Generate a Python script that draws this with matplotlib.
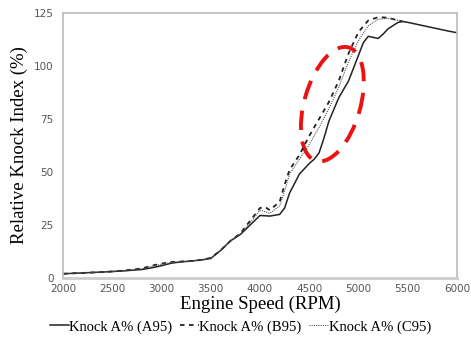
import matplotlib
matplotlib.use("Agg")
import matplotlib.pyplot as plt
import matplotlib.transforms as mtransforms
from matplotlib.patches import Ellipse

speed_a = [2000, 2200, 2400, 2600, 2800, 2900, 3000, 3100, 3200, 3300, 3400, 3500, 3600, 3700, 3800,
           3900, 4000, 4100, 4200, 4250, 4300, 4400, 4500, 4550, 4600, 4650, 4700, 4800, 4900, 5000,
           5050, 5100, 5150, 5200, 5250, 5300, 5400, 5450, 5500, 5600, 5700, 5800, 5900, 6000]
knock_a = [2.0, 2.4, 2.8, 3.3, 4.0, 4.8, 5.8, 7.0, 7.6, 8.0, 8.5, 9.2, 13.0, 17.5, 20.5,
           25.0, 29.5, 29.2, 30.0, 33.0, 40.0, 49.0, 54.0, 56.0, 59.0, 66.0, 74.0, 85.0, 93.0, 105.0,
           111.0, 114.0, 113.5, 113.0, 115.0, 117.5, 120.5, 121.0, 120.6, 119.6, 118.6, 117.6, 116.6, 115.7]

speed_b = [2000, 2200, 2400, 2600, 2800, 2900, 3000, 3100, 3200, 3300, 3400, 3500, 3600, 3700, 3800,
           3900, 4000, 4050, 4100, 4200, 4250, 4300, 4400, 4500, 4600, 4700, 4800, 4900, 5000,
           5100, 5200, 5300, 5400, 5450]
knock_b = [2.0, 2.4, 2.8, 3.4, 4.5, 5.8, 6.8, 7.5, 7.8, 8.0, 8.5, 9.5, 13.0, 17.5, 21.0,
           27.0, 33.0, 33.5, 32.0, 36.0, 44.0, 51.0, 58.0, 67.0, 75.0, 83.0, 93.0, 106.0, 116.0,
           121.5, 123.0, 122.8, 121.5, 121.0]

speed_c = [2000, 2200, 2400, 2600, 2800, 2900, 3000, 3100, 3200, 3300, 3400, 3500, 3600, 3700, 3800,
           3900, 4000, 4100, 4200, 4250, 4300, 4400, 4500, 4600, 4700, 4800, 4900, 5000,
           5100, 5200, 5300, 5400, 5450]
knock_c = [2.0, 2.4, 2.8, 3.3, 4.3, 5.5, 6.5, 7.3, 7.7, 8.0, 8.5, 9.3, 13.0, 17.5, 20.8,
           26.0, 32.0, 30.5, 34.0, 41.0, 49.0, 56.0, 63.0, 71.0, 80.0, 90.0, 102.0, 112.0,
           119.0, 122.0, 122.5, 121.5, 121.0]

labels = ["Knock A% (A95)", "Knock A% (B95)", "Knock A% (C95)"]
x_ticks = [2000, 2500, 3000, 3500, 4000, 4500, 5000, 5500, 6000]
y_ticks = [0, 25, 50, 75, 100, 125]

# highlight ellipse (center in data units)
ell_center = (4735, 82)

plt.rcParams['font.family'] = ['Liberation Serif', 'DejaVu Serif']

fig = plt.figure(figsize=(4.71, 3.58), dpi=100)
ax = fig.add_axes([0.134, 0.2235, 0.836, 0.7402])

ax.plot(speed_a, knock_a, color='#222222', lw=1.1, ls='-', label=labels[0])
ax.plot(speed_b, knock_b, color='#222222', lw=1.3, ls=(0, (2.5, 2.5)), label=labels[1])
ax.plot(speed_c, knock_c, color='#555555', lw=0.8, ls=(0, (1, 1)), label=labels[2])

ax.set_xlim(2000, 6000)
ax.set_ylim(0, 125)
ax.set_xticks(x_ticks)
ax.set_yticks(y_ticks)
ax.tick_params(length=0, labelsize=7.5, colors='#555555', pad=7)
ax.tick_params(axis='x', pad=4)
for lab in ax.get_xticklabels() + ax.get_yticklabels():
    lab.set_color('#555555')
    lab.set_family('DejaVu Sans')
for s in ax.spines.values():
    s.set_color('#bbbbbb')
    s.set_linewidth(1.2)
ax.spines['bottom'].set_color('#cccccc')
ax.spines['bottom'].set_linewidth(2)

ax.set_xlabel("Engine Speed (RPM)", fontsize=13.5, va='top')
ax.xaxis.set_label_coords(0.5, -0.068)
ax.set_ylabel("Relative Knock Index (%)", fontsize=13.5, labelpad=4)

trans = fig.dpi_scale_trans + mtransforms.ScaledTranslation(ell_center[0], ell_center[1], ax.transData)
ell = Ellipse((0, 0), width=1.18, height=0.56, angle=74, transform=trans,
              fill=False, edgecolor='#ee1111', lw=2.8, ls=(0, (5, 3)))
ax.add_patch(ell)

leg = fig.legend(loc='center', bbox_to_anchor=(0.51, 0.0866), ncol=3, frameon=False,
                 fontsize=10.5, handlelength=1.3, handletextpad=0.05, columnspacing=0.5,
                 borderpad=0.1)

fig.savefig("out.png", dpi=100)
